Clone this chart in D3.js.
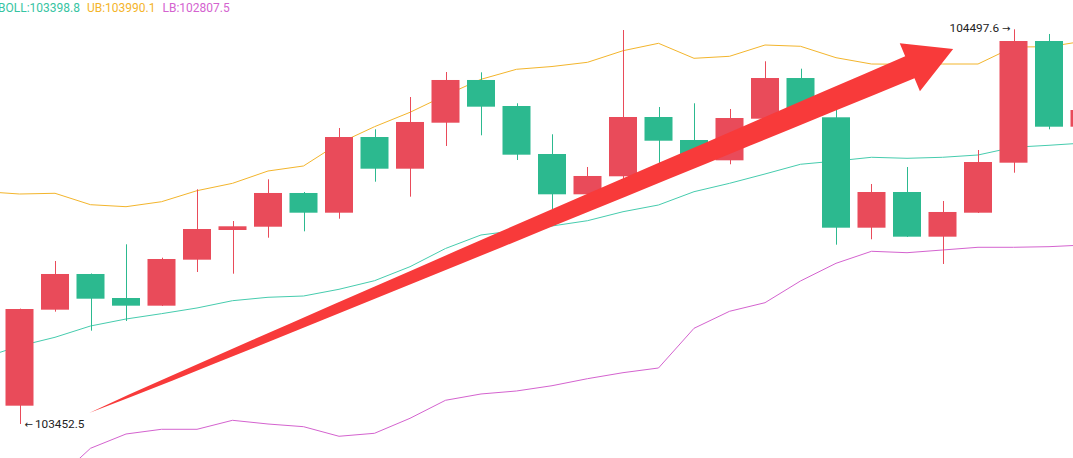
<!DOCTYPE html>
<html><head><meta charset="utf-8">
<script src="https://cdn.jsdelivr.net/npm/d3@7"></script>
<style>html,body{margin:0;padding:0;background:#fff;overflow:hidden}</style>
</head><body><svg id="chart" width="1073" height="458"></svg>
<script>
// ---- data (index 0 is the period just left of the visible frame: bands only) ----
const periods = d3.range(32).map(i => "P" + i);
const open  = [null,103501.0,103755.2,103849.7,103786.1,103765.8,103887.6,103966.2,103974.9,104064.2,104012.0,104212.4,104128.5,104250.3,104363.4,104294.5,104167.4,104060.7,104108.4,104265.4,104204.5,104150.7,104260.9,104368.6,104264.6,103972.3,104066.8,103948.5,104012.0,104144.4,104466.6,104239.7];
const high  = [null,103758.0,103884.1,103851.0,103928.3,103892.8,104074.0,103990.0,104100.4,104066.8,104236.3,104232.8,104318.3,104384.5,104383.7,104301.7,104219.6,104133.0,104495.7,104291.9,104301.7,104286.6,104412.9,104393.3,104283.9,104088.0,104133.0,104043.0,104178.0,104497.6,104485.2,104297.2];
const low   = [null,103452.5,103749.9,103699.6,103725.2,103765.0,103855.0,103850.5,103945.8,103962.7,103996.1,104094.1,104054.4,104188.6,104216.9,104151.5,104021.0,104053.6,104098.6,104142.8,104138.3,104140.2,104252.2,104257.4,103927.3,103941.6,103947.7,103876.2,104011.2,104117.9,104232.8,104236.3];
const close = [null,103757.0,103849.7,103784.3,103765.8,103889.4,103968.8,103976.0,104064.2,104012.0,104212.4,104128.5,104252.2,104363.4,104292.7,104165.6,104060.7,104109.2,104265.4,104202.6,104159.5,104262.7,104368.6,104268.0,103972.3,104066.8,103948.5,104013.9,104146.2,104466.6,104239.7,104283.9];
const ub    = [104067.9,104061.5,104063.4,104033.2,104027.9,104041.1,104070.3,104089.8,104122.4,104135.7,104195.8,104239.7,104277.8,104322.9,104365.2,104391.7,104399.1,104410.2,104440.9,104460.5,104420.8,104426.1,104456.0,104452.6,104422.4,104405.7,104404.9,104405.7,104405.7,104450.7,104451.5,104466.6];
const boll  = [103628.6,103659.0,103682.1,103712.0,103730.5,103744.6,103759.7,103779.0,103788.0,103791.4,103809.2,103831.9,103869.0,103917.2,103953.0,103964.9,103976.8,103990.8,104014.6,104032.4,104067.6,104089.8,104114.5,104140.2,104148.9,104158.7,104156.0,104158.7,104164.8,104185.2,104190.5,104196.6];
const lb    = [103189.1,103256.6,103301.6,103388.2,103426.0,103438.5,103438.5,103462.3,103452.5,103445.4,103420.0,103427.9,103467.6,103515.3,103532.0,103539.9,103553.9,103572.5,103588.4,103600.8,103705.9,103750.9,103773.7,103831.2,103878.0,103909.8,103906.1,103913.2,103920.4,103920.4,103922.0,103926.5];
const legendLabels = ["BOLL", "UB", "LB"];
const legendValues = ["103398.8", "103990.1", "102807.5"];
const lowMarkIndex = 1,  lowMarkValue = 103452.5;
const highMarkIndex = 29, highMarkValue = 104497.6;
const arrowFrom = [2.96, 103481.6];
const arrowTo   = [27.3, 104445.4];

// ---- style ----
const UP = "#e94b5a", DOWN = "#2cb98f";
const bandColors = { ub: "#f3b52c", boll: "#46ccae", lb: "#d463cf" };
const legendColors = ["#36c4a2", "#f4b42a", "#d463cf"];
const FONT = "Roboto, 'Noto Sans', sans-serif";

const svg = d3.select("#chart");
const x = d3.scaleLinear().domain([0, periods.length - 1]).range([-16, 1084.5]);
const y = d3.scaleLinear().domain([lowMarkValue, highMarkValue]).range([424, 29.3]);
const bw = 28;

// bands
const line = d3.line().x((d, i) => x(i)).y(d => y(d));
[["ub", ub], ["boll", boll], ["lb", lb]].forEach(([k, arr]) => {
  svg.append("path").attr("d", line(arr)).attr("fill", "none")
    .attr("stroke", bandColors[k]).attr("stroke-width", 1);
});

// candles
const idx = d3.range(periods.length).filter(i => open[i] != null);
const g = svg.append("g");
idx.forEach(i => {
  const col = close[i] >= open[i] ? UP : DOWN;
  const cx = Math.round(x(i)) + 0.5;
  g.append("line").attr("x1", cx).attr("x2", cx)
    .attr("y1", y(high[i])).attr("y2", y(low[i]))
    .attr("stroke", col).attr("stroke-width", 1);
  const top = y(Math.max(open[i], close[i])), bot = y(Math.min(open[i], close[i]));
  g.append("rect").attr("x", x(i) - bw / 2).attr("width", bw)
    .attr("y", top).attr("height", Math.max(1, bot - top)).attr("fill", col);
});

// legend
const lg = svg.append("text").attr("x", -2).attr("y", 12)
  .attr("font-family", FONT).attr("font-size", 12);
legendLabels.forEach((l, i) => {
  lg.append("tspan").attr("dx", i ? 7 : 0).attr("fill", legendColors[i])
    .text(l + ":" + legendValues[i]);
});

// high / low marks
const lowT = svg.append("text").attr("x", x(lowMarkIndex) + 5).attr("y", y(lowMarkValue) + 4)
  .attr("font-family", FONT).attr("font-size", 11.8).attr("fill", "#222");
lowT.append("tspan").attr("font-family", "'DejaVu Sans', sans-serif").attr("font-size", 10).text("←");
lowT.append("tspan").attr("dx", 2).text(lowMarkValue.toFixed(1));
const highT = svg.append("text").attr("x", x(highMarkIndex) - 3).attr("y", y(highMarkValue) + 3)
  .attr("text-anchor", "end").attr("font-family", FONT).attr("font-size", 11.8).attr("fill", "#222");
highT.append("tspan").text(highMarkValue.toFixed(1));
highT.append("tspan").attr("dx", 3).attr("font-family", "'DejaVu Sans', sans-serif").attr("font-size", 10).text("→");

// trend arrow
const T = [x(arrowFrom[0]), y(arrowFrom[1])], P = [x(arrowTo[0]), y(arrowTo[1])];
const L = Math.hypot(P[0] - T[0], P[1] - T[1]);
const u = [(P[0] - T[0]) / L, (P[1] - T[1]) / L];
const n = [-u[1], u[0]];
const headLen = 47, headHalf = 26, shaftHalf = 12;
const M = [P[0] - u[0] * headLen, P[1] - u[1] * headLen];
const ts = d3.range(0, 1.0001, 0.05);
const pt = (t, s) => {
  const w = shaftHalf * Math.pow(t, 0.7) * s;
  return [T[0] + (M[0] - T[0]) * t + n[0] * w, T[1] + (M[1] - T[1]) * t + n[1] * w];
};
const poly = [];
ts.forEach(t => poly.push(pt(t, -1)));
poly.push([M[0] - n[0] * headHalf, M[1] - n[1] * headHalf]);
poly.push(P);
poly.push([M[0] + n[0] * headHalf, M[1] + n[1] * headHalf]);
ts.slice().reverse().forEach(t => poly.push(pt(t, 1)));
svg.append("path").attr("d", "M" + poly.map(p => p.join(",")).join("L") + "Z")
  .attr("fill", "#f83a3a");
</script>
</body></html>
